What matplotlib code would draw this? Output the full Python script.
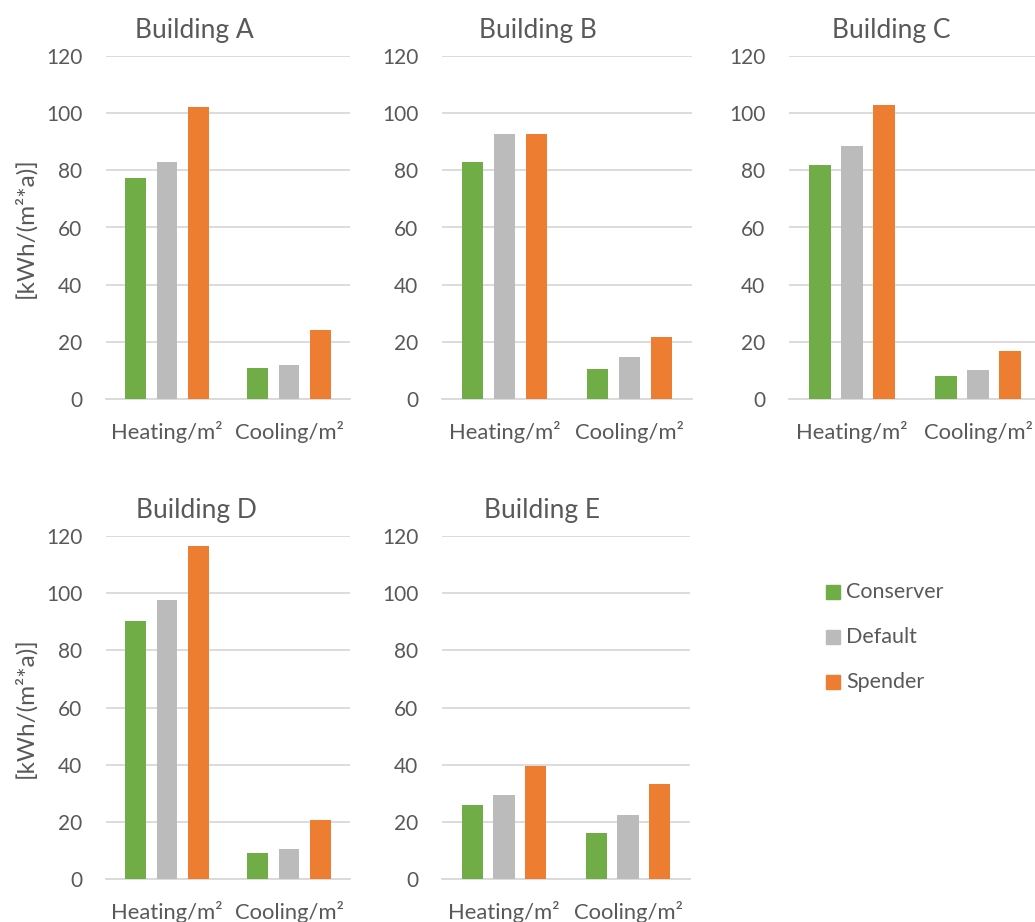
import matplotlib
matplotlib.use("Agg")
import matplotlib.pyplot as plt
from matplotlib.patches import Rectangle

plt.rcParams['font.family'] = ['Lato', 'DejaVu Sans']

# Data
buildings = ["Building A", "Building B", "Building C", "Building D", "Building E"]
categories = ["Heating/m\u00b2", "Cooling/m\u00b2"]
series = ["Conserver", "Default", "Spender"]
conserver = [[77.2, 10.7], [83.0, 10.5], [81.7, 8.2], [90.3, 9.2], [25.8, 16.1]]
default = [[83.0, 11.9], [92.7, 14.6], [88.4, 10.0], [97.6, 10.6], [29.5, 22.3]]
spender = [[102.3, 24.1], [92.6, 21.7], [102.9, 16.8], [116.5, 20.6], [39.5, 33.2]]
y_ticks = [0, 20, 40, 60, 80, 100, 120]
y_label = "[kWh/(m\u00b2*a)]"

colors = ["#70AD47", "#BBBBBB", "#ED7D31"]
text_color = "#595959"
grid_color = "#D9D9D9"

W, H = 1035, 922
fig = plt.figure(figsize=(W / 100, H / 100), dpi=100)

# panel plot areas in pixels: (left, top, width, height)
panels = [
    (106, 56, 244, 343),
    (442, 56, 250, 343),
    (789, 56, 252, 343),
    (106, 536, 244, 343),
    (442, 536, 248, 343),
]
title_pos = [(194, 38), (538, 38), (891, 38), (196, 518), (542, 518)]

bar_w = 0.172
pitch = 0.255
values = [conserver, default, spender]

for i, (l, t, w, h) in enumerate(panels):
    ax = fig.add_axes([l / W, 1 - (t + h) / H, w / W, h / H])
    x = range(len(categories))
    for s in range(3):
        ax.bar([xi + (s - 1) * pitch for xi in x], values[s][i],
               width=bar_w, color=colors[s], zorder=3)
    ax.set_xlim(-0.5, 1.5)
    ax.set_ylim(0, 120)
    ax.set_yticks(y_ticks)
    ax.set_xticks(list(x))
    ax.set_xticklabels(categories)
    ax.grid(axis="y", color=grid_color, linewidth=1.3, zorder=0)
    for sp in ["top", "right", "left"]:
        ax.spines[sp].set_visible(False)
    ax.spines["bottom"].set_color(grid_color)
    ax.spines["bottom"].set_linewidth(1.3)
    ax.tick_params(axis="y", length=0, pad=17, labelsize=15, labelcolor=text_color)
    ax.tick_params(axis="x", length=0, pad=16, labelsize=15.8, labelcolor=text_color)
    ax.set_facecolor("none")
    tx, ty = title_pos[i]
    fig.text(tx / W, 1 - ty / H, buildings[i], ha="center", va="baseline",
             fontsize=19, color=text_color)
    if i in (0, 3):
        fig.text(25 / W, 1 - (t + h / 2) / H, y_label, rotation=90,
                 ha="center", va="center", fontsize=17.5, color=text_color)

# legend
leg_y = [592, 637, 682]
for s, name in enumerate(series):
    fig.patches.append(Rectangle((826 / W, 1 - (leg_y[s] + 7) / H), 14 / W, 14 / H,
                                 transform=fig.transFigure, color=colors[s]))
    fig.text(846 / W, 1 - leg_y[s] / H, name, ha="left", va="center",
             fontsize=15.5, color=text_color)

fig.savefig("out.png", dpi=100, facecolor="white")
